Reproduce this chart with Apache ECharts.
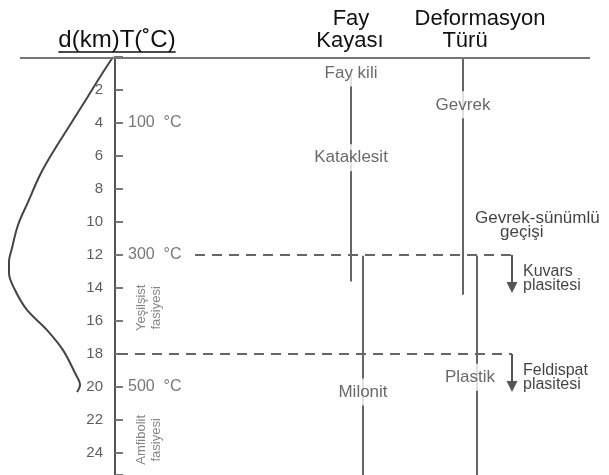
<!DOCTYPE html>
<html><head><meta charset="utf-8">
<script src="https://cdn.jsdelivr.net/npm/echarts@6/dist/echarts.min.js"></script>
<style>html,body{margin:0;padding:0;background:#fff}#c{width:609px;height:475px}</style>
</head><body><div id="c"></div>
<script>
// ---- data ----
const depthMax = 25.33;
const depthStep = 2;
const strengthDepths = [0, 1.21, 2.48, 4.12, 5.76, 7.15, 8.79, 10.18, 11.58, 12.4, 13.09, 14.12, 15.33, 16.55, 17.76, 19.15, 19.88, 20.3];
const strengthValues = [2, 15, 28, 45, 62, 75, 87, 97, 103, 106, 106, 100, 88, 68, 52, 40, 35, 38];
const isothermDepths = [4, 12, 20];
const isothermLabels = ['100  °C', '300  °C', '500  °C'];
const faciesDepths = [15.2, 23.2];
const faciesLabels = ['Yeşilşist\nfasiyesi', 'Amfibolit\nfasiyesi'];
const rockLabels = ['Fay kili', 'Kataklesit', 'Milonit'];
const rockDepths = [0.97, 6.1, 20.3];
const brittleRockRange = [0.97, 13.6];
const myloniteRange = [12.05, 25.33];
const deformLabels = ['Gevrek', 'Plastik'];
const deformDepths = [2.9, 19.4];
const brittleRange = [0, 14.4];
const plasticRange = [12.05, 25.33];
const transitionDepths = [12, 18];
const transitionLabels = ['Kuvars\nplasitesi', 'Feldispat\nplasitesi'];
const arrowTipSpan = 2.3;
const bdtLabels = ['Gevrek-sünümlü', 'geçişi'];
const bdtDepths = [9.75, 10.65];
const headerLeft = 'd(km)T(˚C)';
const headerRock = ['Fay', 'Kayası'];
const headerDeform = ['Deformasyon', 'Türü'];

// ---- layout (pixels) ----
const X = { axis: 115, temp: 128, facies: 149, fay: 351, myl: 363, def: 463, pla: 477, plaLabel: 470,
  arrow: 512, dash12: 195, dash18: 118, trans: 523, bdt1: 475, bdt2: 500 };
const FONT = '"Liberation Sans", Arial, sans-serif';
const GRAY = '#5e5e5e';

const chart = echarts.init(document.getElementById('c'), null, { renderer: 'canvas' });

function vline(x, range, color) {
  return { type: 'line', xAxisIndex: 0, yAxisIndex: 0, symbol: 'none', silent: true, z: 2,
    lineStyle: { color: color || '#666', width: 2 }, data: [[x, range[0]], [x, range[1]]] };
}
function hdash(x0, d) {
  return { type: 'line', xAxisIndex: 0, yAxisIndex: 0, symbol: 'none', silent: true, z: 2,
    lineStyle: { color: '#666', width: 2, type: [10, 7] }, data: [[x0, d], [X.arrow, d]] };
}
function arrow(d) {
  const c = d + arrowTipSpan - 0.33;
  return { type: 'line', xAxisIndex: 0, yAxisIndex: 0, silent: true, z: 2, showSymbol: true,
    lineStyle: { color: '#555', width: 2 }, itemStyle: { color: '#555' },
    data: [{ value: [X.arrow, d], symbol: 'none' },
           { value: [X.arrow, c], symbol: 'triangle', symbolSize: [11, 11], symbolRotate: 180 }] };
}
function labels(points, style) {
  return { type: 'scatter', xAxisIndex: 0, yAxisIndex: 0, symbolSize: 0, silent: true, z: 5,
    data: points.map(p => ({ value: [p[0], p[1]], name: p[2] })),
    label: Object.assign({ show: true, formatter: p => p.name, fontFamily: FONT }, style) };
}

// measure header text for underline
const HFS = 24;
const mctx = document.createElement('canvas').getContext('2d');
mctx.font = HFS + 'px ' + FONT;
const hlW = mctx.measureText(headerLeft).width;

const series = [
  { type: 'line', xAxisIndex: 1, yAxisIndex: 1, symbol: 'none', smooth: 0.35, silent: true,
    lineStyle: { color: '#444', width: 2 },
    data: strengthDepths.map((d, i) => [strengthValues[i], d]) },
  vline(X.fay, brittleRockRange),
  vline(X.myl, myloniteRange),
  vline(X.def, brittleRange),
  vline(X.pla, plasticRange),
  hdash(X.dash12, transitionDepths[0]),
  hdash(X.dash18, transitionDepths[1]),
  arrow(transitionDepths[0]),
  arrow(transitionDepths[1]),
  labels(isothermDepths.map((d, i) => [X.temp, d, isothermLabels[i]]),
    { position: 'right', distance: 0, fontSize: 16, color: '#555' }),
  labels(faciesDepths.map((d, i) => [X.facies, d, faciesLabels[i]]),
    { position: 'inside', rotate: 90, fontSize: 13, lineHeight: 15, color: '#666', align: 'center' }),
  labels([[X.fay, rockDepths[0], rockLabels[0]], [X.fay, rockDepths[1], rockLabels[1]], [X.myl, rockDepths[2], rockLabels[2]],
          [X.def, deformDepths[0], deformLabels[0]], [X.plaLabel, deformDepths[1], deformLabels[1]]],
    { position: 'inside', fontSize: 17, color: '#444', backgroundColor: '#fff', padding: [5, 3] }),
  labels(transitionDepths.map((d, i) => [X.trans, d + 1.4, transitionLabels[i]]),
    { position: 'right', distance: 0, fontSize: 16, lineHeight: 14, color: '#111' }),
  labels([[X.bdt1, bdtDepths[0], bdtLabels[0]], [X.bdt2, bdtDepths[1], bdtLabels[1]]],
    { position: 'right', distance: 0, fontSize: 17, color: '#111' })
];

chart.setOption({
  animation: false,
  backgroundColor: '#fff',
  grid: [
    { left: X.axis, right: 0, top: 57, bottom: 0 },
    { left: 0, width: X.axis, top: 57, bottom: 0 }
  ],
  xAxis: [
    { type: 'value', gridIndex: 0, min: X.axis, max: 609, show: false },
    { type: 'value', gridIndex: 1, min: 0, max: X.axis, inverse: true, show: false }
  ],
  yAxis: [
    { type: 'value', gridIndex: 0, min: 0, max: depthMax, interval: depthStep, inverse: true,
      axisLine: { show: true, lineStyle: { color: '#555', width: 2 } },
      axisTick: { show: true, inside: true, length: 8, lineStyle: { color: '#777', width: 2 } },
      axisLabel: { margin: 12, fontSize: 15, color: GRAY, fontFamily: FONT,
        formatter: v => (v > 0 && v % depthStep === 0) ? String(v) : '' },
      splitLine: { show: false } },
    { type: 'value', gridIndex: 1, min: 0, max: depthMax, inverse: true, show: false }
  ],
  graphic: [
    { type: 'line', shape: { x1: 20, y1: 58, x2: 590, y2: 58 }, style: { stroke: '#777', lineWidth: 2 }, z: 10 },
    { type: 'text', x: 117, y: 40, style: { text: headerLeft, font: HFS + 'px ' + FONT, fill: '#111', textAlign: 'center', textVerticalAlign: 'middle' } },
    { type: 'line', shape: { x1: 117 - hlW / 2, y1: 52, x2: 117 + hlW / 2, y2: 52 }, style: { stroke: '#111', lineWidth: 1.5 } },
    { type: 'text', x: 351, y: 19, style: { text: headerRock[0], font: '22px ' + FONT, fill: '#111', textAlign: 'center', textVerticalAlign: 'middle' } },
    { type: 'text', x: 350, y: 41, style: { text: headerRock[1], font: '22px ' + FONT, fill: '#111', textAlign: 'center', textVerticalAlign: 'middle' } },
    { type: 'text', x: 480, y: 19, style: { text: headerDeform[0], font: '22px ' + FONT, fill: '#111', textAlign: 'center', textVerticalAlign: 'middle' } },
    { type: 'text', x: 465, y: 41, style: { text: headerDeform[1], font: '22px ' + FONT, fill: '#111', textAlign: 'center', textVerticalAlign: 'middle' } }
  ],
  series: series
});
</script></body></html>
